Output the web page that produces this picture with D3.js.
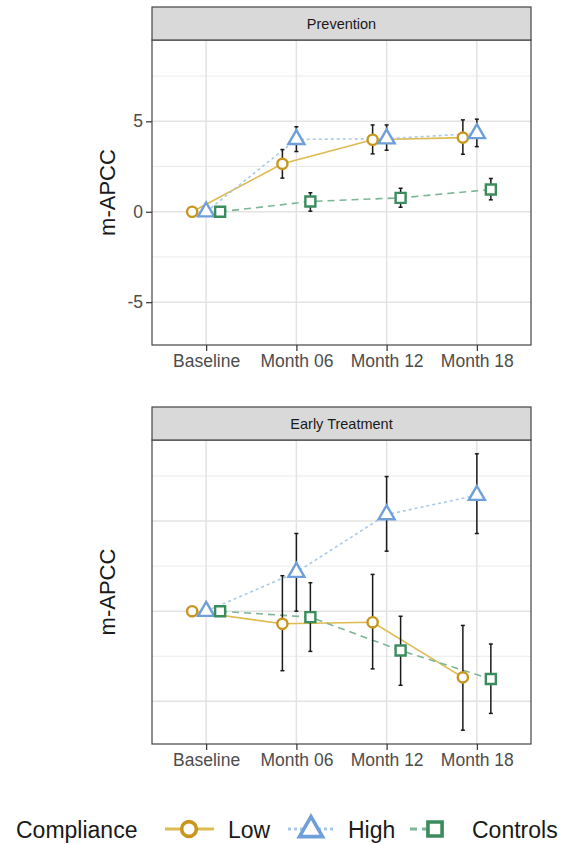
<!DOCTYPE html>
<html lang="en">
<head>
  <meta charset="UTF-8">
  <title>m-APCC</title>
  <style>
    body { margin: 0; background: #fff; }
    svg { display: block; font-family: "Liberation Sans", Arial, sans-serif; }
  </style>
</head>
<body>
<svg id="chart" width="564" height="844"></svg>

<script src="https://d3js.org/d3.v7.min.js"></script>
<script>
// categories / groups
var categories = ["Baseline", "Month 06", "Month 12", "Month 18"];
var groups = ["Low", "High", "Controls"];
var panels = ["Prevention", "Early Treatment"];

// Prevention panel: mean, lower, upper
var prevLow = [0, 2.65, 3.98, 4.10];
var prevLowLo = [0, 1.86, 3.20, 3.18];
var prevLowHi = [0, 3.44, 4.80, 5.08];
var prevHigh = [0, 4.00, 4.04, 4.33];
var prevHighLo = [0, 3.33, 3.40, 3.60];
var prevHighHi = [0, 4.70, 4.80, 5.12];
var prevControls = [0, 0.57, 0.77, 1.23];
var prevControlsLo = [0, 0.03, 0.25, 0.66];
var prevControlsHi = [0, 1.05, 1.30, 1.84];

// Early treatment panel
var earlyLow = [0, -0.70, -0.61, -3.67];
var earlyLowLo = [0, -3.30, -3.20, -6.60];
var earlyLowHi = [0, 1.97, 2.04, -0.79];
var earlyHigh = [0, 2.16, 5.36, 6.43];
var earlyHighLo = [0, 0.00, 3.33, 4.31];
var earlyHighHi = [0, 4.31, 7.47, 8.73];
var earlyControls = [0, -0.33, -2.18, -3.76];
var earlyControlsLo = [0, -2.23, -4.11, -5.67];
var earlyControlsHi = [0, 1.58, -0.28, -1.82];

var yMajor = [-5, 0, 5];
var yMinor = [-2.5, 2.5, 7.5];

function series(m, lo, hi) {
  return m.map(function(v, i) { return {cat: categories[i], y: v, lo: lo[i], hi: hi[i]}; });
}

var data = {
  "Prevention": {
    "Low": series(prevLow, prevLowLo, prevLowHi),
    "High": series(prevHigh, prevHighLo, prevHighHi),
    "Controls": series(prevControls, prevControlsLo, prevControlsHi)
  },
  "Early Treatment": {
    "Low": series(earlyLow, earlyLowLo, earlyLowHi),
    "High": series(earlyHigh, earlyHighLo, earlyHighHi),
    "Controls": series(earlyControls, earlyControlsLo, earlyControlsHi)
  }
};

var style = {
  "Low":      {point: "#C8961E", line: "#DDBB50", dash: null,  sym: d3.symbolCircle,   size: 82,  lsize: 170},
  "High":     {point: "#6E9FD8", line: "#A9C9E9", dash: "3,3", sym: d3.symbolTriangle, size: 112, lsize: 230},
  "Controls": {point: "#3B8C5C", line: "#7DB596", dash: "7,5", sym: d3.symbolSquare,   size: 100, lsize: 200}
};

var svg = d3.select("#chart");
var left = 152, right = 531;

// shared y range (ggplot style 5% expansion)
var allVals = [];
panels.forEach(function(p) { groups.forEach(function(g) {
  data[p][g].forEach(function(d) { allVals.push(d.lo, d.hi); });
}); });
var ext = d3.extent(allVals), pad = (ext[1] - ext[0]) * 0.05;

var x = d3.scalePoint().domain(categories).range([left, right]).padding(0.6);
var dodge = x.step() * 0.155;
var offs = {"Low": -dodge, "High": 0, "Controls": dodge};

var layout = [
  {name: "Prevention", stripTop: 7, top: 40, bottom: 345, labels: true},
  {name: "Early Treatment", stripTop: 407, top: 440, bottom: 744, labels: false}
];

layout.forEach(function(L) {
  var y = d3.scaleLinear().domain([ext[0] - pad, ext[1] + pad]).range([L.bottom, L.top]);
  var g = svg.append("g");

  // grid
  g.selectAll(".minor").data(yMinor).enter().append("line")
    .attr("x1", left).attr("x2", right)
    .attr("y1", function(d) { return y(d); }).attr("y2", function(d) { return y(d); })
    .attr("stroke", "#EBEBEB").attr("stroke-width", 1);
  g.selectAll(".major").data(yMajor).enter().append("line")
    .attr("x1", left).attr("x2", right)
    .attr("y1", function(d) { return y(d); }).attr("y2", function(d) { return y(d); })
    .attr("stroke", "#E3E3E3").attr("stroke-width", 1.5);
  g.selectAll(".vgrid").data(categories).enter().append("line")
    .attr("x1", function(d) { return x(d); }).attr("x2", function(d) { return x(d); })
    .attr("y1", L.top).attr("y2", L.bottom)
    .attr("stroke", "#E3E3E3").attr("stroke-width", 1.5);

  // lines
  groups.forEach(function(k) {
    var line = d3.line().x(function(d) { return x(d.cat) + offs[k]; }).y(function(d) { return y(d.y); });
    g.append("path").datum(data[L.name][k])
      .attr("d", line).attr("fill", "none")
      .attr("stroke", style[k].line).attr("stroke-width", 1.6)
      .attr("stroke-dasharray", style[k].dash);
  });

  // error bars
  groups.forEach(function(k) {
    var eb = g.selectAll(".eb" + k).data(data[L.name][k].filter(function(d) { return d.hi !== d.lo; }))
      .enter().append("g").attr("stroke", "#1A1A1A").attr("stroke-width", 1.5);
    eb.append("line")
      .attr("x1", function(d) { return x(d.cat) + offs[k]; }).attr("x2", function(d) { return x(d.cat) + offs[k]; })
      .attr("y1", function(d) { return y(d.lo); }).attr("y2", function(d) { return y(d.hi); });
    ["lo", "hi"].forEach(function(e) {
      eb.append("line")
        .attr("x1", function(d) { return x(d.cat) + offs[k] - 2; }).attr("x2", function(d) { return x(d.cat) + offs[k] + 2; })
        .attr("y1", function(d) { return y(d[e]); }).attr("y2", function(d) { return y(d[e]); });
    });
  });

  // points
  groups.forEach(function(k) {
    g.selectAll(".pt" + k).data(data[L.name][k]).enter().append("path")
      .attr("d", d3.symbol(style[k].sym, style[k].size))
      .attr("transform", function(d) { return "translate(" + (x(d.cat) + offs[k]) + "," + y(d.y) + ")"; })
      .attr("fill", "#fff").attr("stroke", style[k].point).attr("stroke-width", 2.4);
  });

  // panel border
  g.append("rect").attr("x", left).attr("y", L.top).attr("width", right - left).attr("height", L.bottom - L.top)
    .attr("fill", "none").attr("stroke", "#444").attr("stroke-width", 1.2);

  // strip
  g.append("rect").attr("x", left).attr("y", L.stripTop).attr("width", right - left).attr("height", L.top - L.stripTop)
    .attr("fill", "#D9D9D9").attr("stroke", "#444").attr("stroke-width", 1.2);
  g.append("text").attr("x", (left + right) / 2).attr("y", (L.stripTop + L.top) / 2 + 5)
    .attr("text-anchor", "middle").attr("font-size", 14.5).attr("fill", "#1A1A1A").text(L.name);

  // x axis
  var xa = g.append("g").attr("transform", "translate(0," + L.bottom + ")")
    .call(d3.axisBottom(x).tickSize(6).tickPadding(4));
  xa.select(".domain").remove();
  xa.selectAll(".tick line").attr("stroke", "#333").attr("stroke-width", 1.2);
  xa.selectAll(".tick text").attr("font-size", 17.5).attr("fill", "#4D4D4D")
    .attr("font-family", "Liberation Sans, Arial, sans-serif");

  // y axis
  if (L.labels) {
    var ya = g.append("g").attr("transform", "translate(" + left + ",0)")
      .call(d3.axisLeft(y).tickValues(yMajor).tickFormat(function(d) { return String(d); })
        .tickSize(6).tickPadding(3));
    ya.select(".domain").remove();
    ya.selectAll(".tick line").attr("stroke", "#333").attr("stroke-width", 1.2);
    ya.selectAll(".tick text").attr("font-size", 17.5).attr("fill", "#4D4D4D")
      .attr("font-family", "Liberation Sans, Arial, sans-serif");
  }

  g.append("text")
    .attr("transform", "translate(115," + (L.top + L.bottom) / 2 + ") rotate(-90)")
    .attr("text-anchor", "middle").attr("font-size", 22).attr("fill", "#1A1A1A").text("m-APCC");
});

// legend
var leg = svg.append("g");
var ly = 829;
leg.append("text").attr("x", 16).attr("y", 838).attr("font-size", 23).attr("fill", "#1A1A1A").text("Compliance");
var keys = [
  {k: "Low", cx: 189, x0: 165, x1: 214, tx: 228},
  {k: "High", cx: 311, x0: 288, x1: 333, tx: 348},
  {k: "Controls", cx: 435, x0: 410, x1: 435, tx: 472}
];
keys.forEach(function(d) {
  leg.append("line").attr("x1", d.x0).attr("x2", d.x1).attr("y1", ly).attr("y2", ly)
    .attr("stroke", style[d.k].line).attr("stroke-width", 3)
    .attr("stroke-dasharray", style[d.k].dash);
  leg.append("path").attr("d", d3.symbol(style[d.k].sym, style[d.k].lsize))
    .attr("transform", "translate(" + d.cx + "," + (d.k === "High" ? ly + 1 : ly) + ")")
    .attr("fill", "#fff").attr("stroke", style[d.k].point).attr("stroke-width", 3.6);
  leg.append("text").attr("x", d.tx).attr("y", 838).attr("font-size", 23).attr("fill", "#1A1A1A").text(d.k);
});
</script>
</body>
</html>
